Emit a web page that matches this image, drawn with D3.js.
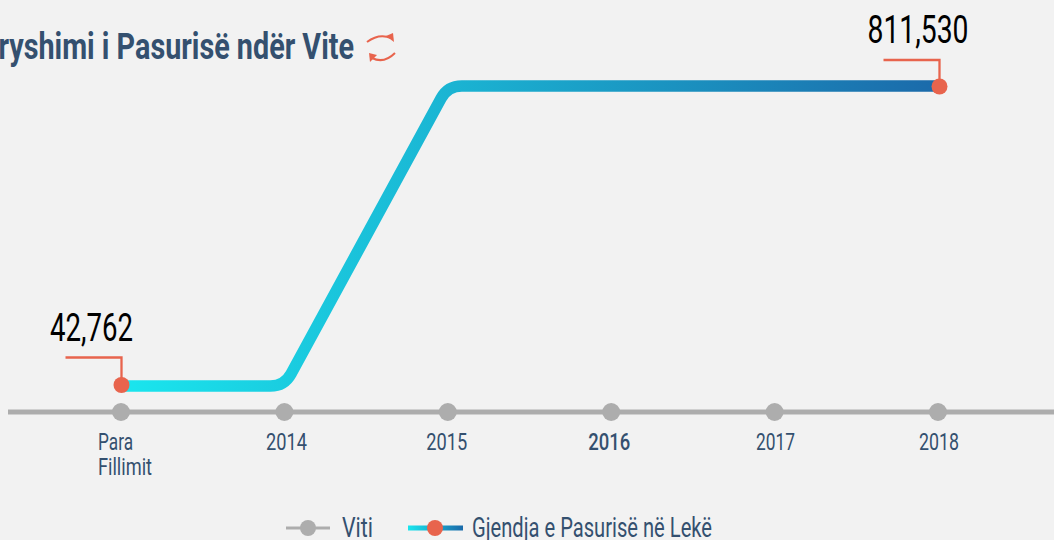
<!DOCTYPE html>
<html><head><meta charset="utf-8">
<script src="https://cdn.jsdelivr.net/npm/d3@7/dist/d3.min.js"></script>
<style>
html,body{margin:0;padding:0;background:#f2f2f2;overflow:hidden}
text{font-family:"Roboto","DejaVu Sans Condensed",sans-serif}
</style></head><body><svg id="c" width="1054" height="540"></svg>
<script>
const categories=["Para Fillimit","2014","2015","2016","2017","2018"];
const assetValues=[42762,42762,811530,811530,811530,811530];
const tickLabels=[["Para","Fillimit"],["2014"],["2015"],["2016"],["2017"],["2018"]];
const tickWidths=[[35,54],[41],[41],[42],[39],[40]];
const tickNudge=[0,2,-1,-2,1,1];
const annotated=[0,5];
const titleText="Ndryshimi i Pasurisë ndër Vite";
const legendAxis="Viti";
const legendSeries="Gjendja e Pasurisë në Lekë";

const svg=d3.select("#c");
const navy="#34506f",coral="#e8644d",grey="#adadad";
const x=d3.scalePoint().domain(categories).range([121,938]);
const y=d3.scaleLinear().domain([42762,811530]).range([386,86]);
const axisY=412;
const defs=svg.append("defs");
function grad(id,x1,x2){
  const g=defs.append("linearGradient").attr("id",id).attr("gradientUnits","userSpaceOnUse")
    .attr("x1",x1).attr("x2",x2).attr("y1",0).attr("y2",0);
  g.append("stop").attr("offset",0).attr("stop-color","#1ae6ee");
  g.append("stop").attr("offset",1).attr("stop-color","#1b6aaa");
}
grad("lg",x(categories[0]),x(categories[5]));
grad("lg2",408,463);
svg.append("rect").attr("width",1054).attr("height",540).attr("fill","#f2f2f2");

function label(t,px,py,size,w,opts={}){
  return svg.append("text").attr("x",px).attr("y",py).attr("font-size",size)
    .attr("fill",opts.fill||navy).attr("font-weight",opts.weight||400)
    .attr("text-anchor",opts.anchor||"start")
    .attr("textLength",w).attr("lengthAdjust","spacingAndGlyphs").text(t);
}
// title (runs off the left edge)
label(titleText,354,59,36,392,{anchor:"end",weight:700});
// refresh icon
const ic=svg.append("g").attr("fill","none").attr("stroke",coral).attr("stroke-width",2);
ic.append("path").attr("d","M367 42Q379 33 391 38");
ic.append("path").attr("d","M395 53Q384 64 372 58");
svg.append("path").attr("fill",coral).attr("d","M386 36L393 33L394 42Z");
svg.append("path").attr("fill",coral).attr("d","M369 53L377 55L370 62Z");

// axis
svg.append("line").attr("x1",8).attr("x2",1054).attr("y1",axisY).attr("y2",axisY)
  .attr("stroke",grey).attr("stroke-width",5);
svg.selectAll(".tickdot").data(categories).join("circle").attr("class","tickdot")
  .attr("cx",d=>x(d)).attr("cy",axisY).attr("r",9).attr("fill",grey);
tickLabels.forEach((ls,i)=>{
  const cx=x(categories[i]);
  if(ls.length>1){
    ls.forEach((s,j)=>label(s,cx-23,450+j*25,23.5,tickWidths[i][j]));
  }else{
    label(ls[0],cx+tickNudge[i],450,23.5,tickWidths[i][0],{anchor:"middle",weight:ls[0]==="2016"?500:400});
  }
});

// rounded-corner curve through the data
function RoundCorner(ctx,r){this._c=ctx;this._r=r;}
RoundCorner.prototype={
  areaStart(){},areaEnd(){},
  lineStart(){this._p=[];},
  point(a,b){this._p.push([+a,+b]);},
  lineEnd(){
    const p=this._p,c=this._c,r=this._r;
    c.moveTo(p[0][0],p[0][1]);
    for(let i=1;i<p.length-1;i++){
      const [a,b,n]=[p[i-1],p[i],p[i+1]];
      const d1=Math.hypot(a[0]-b[0],a[1]-b[1]),d2=Math.hypot(n[0]-b[0],n[1]-b[1]);
      if(a[1]===b[1]&&n[1]===b[1]){c.lineTo(b[0],b[1]);continue;}
      const s=[b[0]+(a[0]-b[0])*r/d1,b[1]+(a[1]-b[1])*r/d1];
      const e=[b[0]+(n[0]-b[0])*r/d2,b[1]+(n[1]-b[1])*r/d2];
      c.lineTo(s[0],s[1]);c.quadraticCurveTo(b[0],b[1],e[0],e[1]);
    }
    const l=p[p.length-1];c.lineTo(l[0],l[1]);
  }
};
const line=d3.line().x((d,i)=>x(categories[i])).y(d=>y(d)).curve(ctx=>new RoundCorner(ctx,14));
svg.append("path").datum(assetValues).attr("d",line).attr("fill","none")
  .attr("stroke","url(#lg)").attr("stroke-width",11.5);

// annotations
annotated.forEach(i=>{
  const px=x(categories[i])+(i===0?0.5:1.5),py=y(assetValues[i])+(i===0?-1:0.5);
  const top=i===0?py-27.5:py-26.5;
  svg.append("path").attr("d",d3.line()([[px-56,top],[px,top],[px,py]]))
    .attr("fill","none").attr("stroke",coral).attr("stroke-width",2.3);
  svg.append("circle").attr("cx",px).attr("cy",py).attr("r",8).attr("fill",coral);
  label(d3.format(",")(assetValues[i]),i===0?91.5:918,i===0?341:43,38,i===0?83:101,
    {fill:"#000",anchor:"middle"});
});

// legend
const ly=528;
svg.append("line").attr("x1",286).attr("x2",330).attr("y1",ly).attr("y2",ly).attr("stroke",grey).attr("stroke-width",3);
svg.append("circle").attr("cx",308).attr("cy",ly).attr("r",8).attr("fill",grey);
label(legendAxis,342,ly+9,27,31);
svg.append("rect").attr("x",408).attr("y",ly-2.5).attr("width",55).attr("height",5).attr("fill","url(#lg2)");
svg.append("circle").attr("cx",435).attr("cy",ly).attr("r",8).attr("fill",coral);
label(legendSeries,472,ly+9,27,240);
</script></body></html>
